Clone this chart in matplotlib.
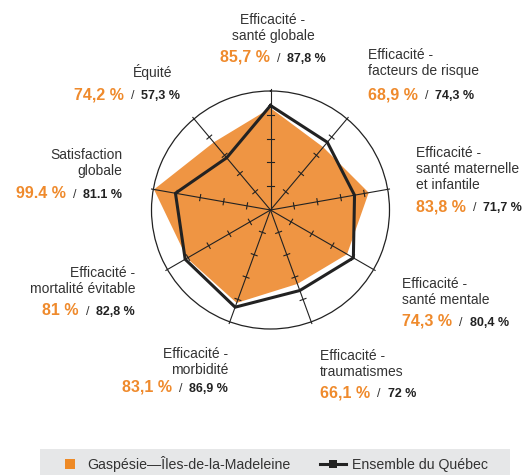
import numpy as np
import matplotlib
matplotlib.use("Agg")
import matplotlib.pyplot as plt
from matplotlib.transforms import Affine2D
from matplotlib.patches import Rectangle
from matplotlib.lines import Line2D

plt.rcParams['font.family'] = ['Liberation Sans', 'DejaVu Sans']

# Indicators, clockwise from the top
categories = [
    "Efficacité -\nsanté globale",
    "Efficacité -\nfacteurs de risque",
    "Efficacité -\nsanté maternelle\net infantile",
    "Efficacité -\nsanté mentale",
    "Efficacité -\ntraumatismes",
    "Efficacité -\nmorbidité",
    "Efficacité -\nmortalité évitable",
    "Satisfaction\nglobale",
    "Équité",
]
region_values = [85.7, 68.9, 83.8, 74.3, 66.1, 83.1, 81.0, 99.4, 74.2]
quebec_values = [87.8, 74.3, 71.7, 80.4, 72.0, 86.9, 82.8, 81.1, 57.3]
region_labels = ["85,7 %", "68,9 %", "83,8 %", "74,3 %", "66,1 %", "83,1 %", "81 %", "99.4 %", "74,2 %"]
quebec_labels = ["87,8 %", "74,3 %", "71,7 %", "80,4 %", "72 %", "86,9 %", "82,8 %", "81.1 %", "57,3 %"]
legend_labels = ["Gaspésie\u2014Îles-de-la-Madeleine", "Ensemble du Québec"]
ring_ticks = [20, 40, 60, 80]

ORANGE_FILL = "#EF9543"
ORANGE_TEXT = "#EF8A2C"
ORANGE_KEY = "#EE8A26"
DARK = "#222222"
TEXT = "#333333"

W, H = 528, 475
fig = plt.figure(figsize=(W / 100, H / 100), dpi=100)
px = Affine2D().scale(1, -1).translate(0, H)  # pixel coords, origin top-left

# Radar axes
cx, cy, R = 270.5, 210, 119
ax = fig.add_axes([(cx - R) / W, (H - cy - R) / H, 2 * R / W, 2 * R / H], projection="polar")
ax.set_theta_zero_location("N")
ax.set_theta_direction(-1)
ax.set_ylim(0, 100)
ax.grid(False)
ax.set_xticks([])
ax.set_yticks([])
ax.patch.set_alpha(0)
ax.spines["polar"].set_linewidth(0.9)
ax.spines["polar"].set_color(DARK)

n = len(categories)
theta = np.deg2rad(np.arange(n) * 360.0 / n)
tc = np.append(theta, theta[0])

ax.fill(tc, np.append(region_values, region_values[0]), color=ORANGE_FILL, lw=0, zorder=1)

for t in theta:
    ax.plot([t, t], [0, 101.5], color=DARK, lw=0.8, zorder=2, clip_on=False)
    for r in ring_ticks:
        h = 2.6
        d = np.arctan(h / r)
        rr = np.hypot(r, h)
        ax.plot([t - d, t + d], [rr, rr], color=DARK, lw=0.8, zorder=2)
ax.plot(tc, np.append(quebec_values, quebec_values[0]), color=DARK, lw=2.2,
        zorder=3, solid_joinstyle="miter", clip_on=False)

# Indicator labels: (x, first baseline, alignment, value-line baseline)
label_pos = [
    (273, 24, "center", 62),
    (368, 59, "left", 99),
    (416, 157, "left", 211),
    (402, 288, "left", 326),
    (320, 360, "left", 397),
    (228, 358, "right", 392),
    (135, 277, "right", 315),
    (122, 159, "right", 198),
    (172, 77, "right", 99),
]
value_x = {8: 180}

renderer = fig.canvas.get_renderer()

for i, (x, y0, ha, yv) in enumerate(label_pos):
    for k, line in enumerate(categories[i].split("\n")):
        fig.text(x, y0 + 16 * k, line, transform=px, ha=ha, va="baseline",
                 fontsize=10, color=TEXT)
    pieces = [
        (region_labels[i], dict(fontsize=11.5, fontweight="bold", color=ORANGE_TEXT)),
        ("  /  ", dict(fontsize=9, color=TEXT)),
        (quebec_labels[i], dict(fontsize=9, fontweight="bold", color=DARK)),
    ]
    arts = [fig.text(0, yv, s, transform=px, va="baseline", ha="left", **kw) for s, kw in pieces]
    widths = [a.get_window_extent(renderer).width for a in arts]
    total = sum(widths)
    xv = value_x.get(i, x)
    start = {"left": xv, "center": xv - total / 2, "right": xv - total}[ha]
    for a, w in zip(arts, widths):
        a.set_x(start)
        start += w

# Legend strip
fig.add_artist(Rectangle((40, 449), 470, 30, transform=px, facecolor="#E6E7E8",
                         edgecolor="none", zorder=0))
fig.add_artist(Rectangle((65, 459), 10, 10, transform=px, facecolor=ORANGE_KEY,
                         edgecolor="none"))
fig.text(87, 468.5, legend_labels[0], transform=px, fontsize=10.2, color=TEXT, va="baseline")
fig.add_artist(Line2D([320, 346], [464, 464], transform=px, color=DARK, lw=2.2))
fig.add_artist(Rectangle((329, 460), 8, 8, transform=px, facecolor=DARK, edgecolor="none"))
fig.text(352, 468.5, legend_labels[1], transform=px, fontsize=10.2, color=TEXT, va="baseline")

fig.savefig("out.png", dpi=100, facecolor="white")
